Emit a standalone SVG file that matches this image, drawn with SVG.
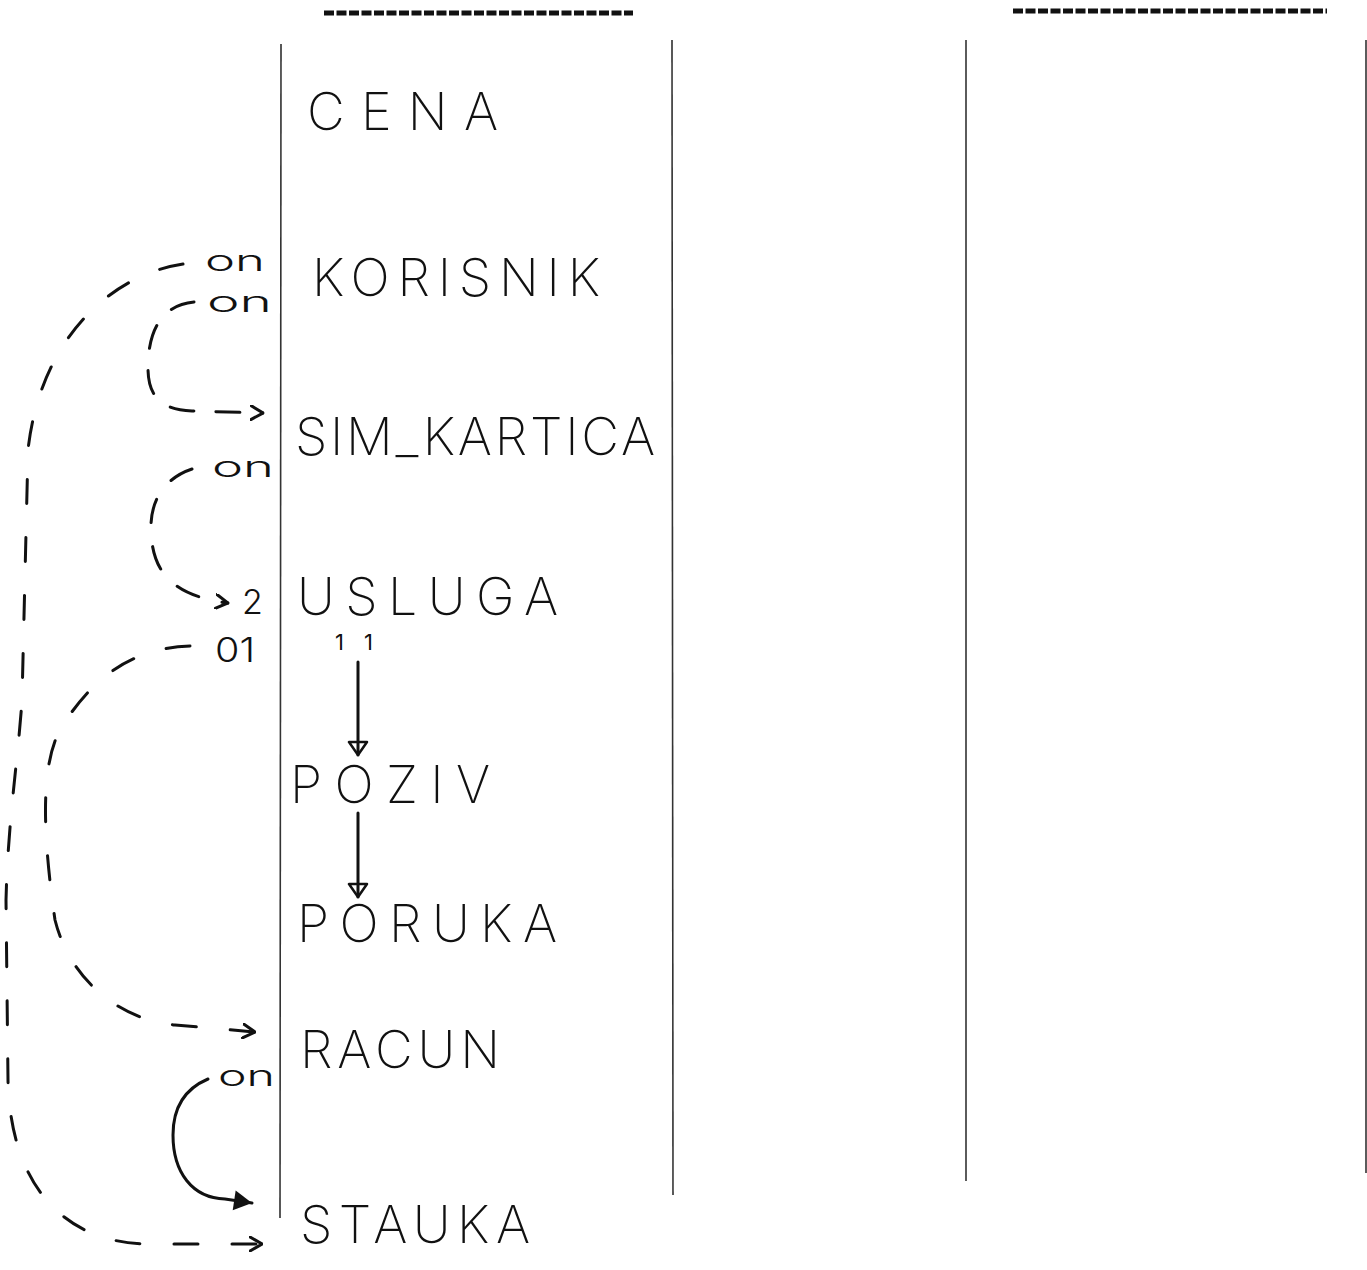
<svg xmlns="http://www.w3.org/2000/svg" width="1367" height="1270" viewBox="0 0 1367 1270">
<style>
.bg{fill:#fff}
.col{stroke:#333;stroke-width:1.6;fill:none}
.top{stroke:#111;stroke-width:5;stroke-dasharray:10 2.5;fill:none}
.name{font-family:Inter,"Liberation Sans",Arial,sans-serif;font-size:52px;font-weight:250;fill:#111}
.lbl{font-family:Inter,"Liberation Sans",Arial,sans-serif;font-size:34px;font-weight:300;fill:#111}
.on{font-family:Inter,"Liberation Sans",Arial,sans-serif;font-size:29px;font-weight:300;fill:#111}
.small{font-family:Inter,"Liberation Sans",Arial,sans-serif;font-size:22px;font-weight:400;fill:#111}
.dash{stroke:#111;stroke-width:3;fill:none;stroke-dasharray:24 34;stroke-linecap:round}
.solid{stroke:#111;stroke-width:3;fill:none;stroke-linecap:round}
</style>
<defs>
<marker id="open" viewBox="0 0 14 16" refX="13" refY="8" markerWidth="14" markerHeight="16" markerUnits="userSpaceOnUse" orient="auto">
<path d="M1,1 L13,8 L1,15" fill="none" stroke="#111" stroke-width="3" stroke-linecap="round"/>
</marker>
<marker id="tri" viewBox="0 0 16 22" refX="15" refY="11" markerWidth="16" markerHeight="22" markerUnits="userSpaceOnUse" orient="auto">
<path d="M2,2 L15,11 L2,20 Z" fill="none" stroke="#111" stroke-width="2.5" stroke-linejoin="round"/>
</marker>
<marker id="fill" viewBox="0 0 20 22" refX="19" refY="11" markerWidth="20" markerHeight="22" markerUnits="userSpaceOnUse" orient="auto">
<path d="M1,1 L19,11 L1,21 Z" fill="#111"/>
</marker>
</defs>
<rect class="bg" x="0" y="0" width="1367" height="1270"/>
<g id="frame">
<line class="top" x1="324" y1="13" x2="633" y2="13"/>
<line class="top" x1="1013" y1="11" x2="1327" y2="11"/>
<line class="col" x1="281" y1="44" x2="280" y2="1218"/>
<line class="col" x1="672" y1="40" x2="673" y2="1195"/>
<line class="col" x1="966" y1="40" x2="966" y2="1181"/>
<line class="col" x1="1366" y1="40" x2="1366" y2="1173"/>
</g>
<g id="connectors">
<path id="e-korisnik-stauka" class="dash" d="M183,264 C110,275 40,340 28,450 L22,700 C18,760 8,820 6,900 L8,1080 C10,1180 60,1244 150,1244 L262,1244" marker-end="url(#open)"/>
<path id="e-korisnik-sim" class="dash" style="stroke-dasharray:24 22" d="M194,302 C162,305 148,330 148,368 C148,395 160,410 192,411 L263,413" marker-end="url(#open)"/>
<path id="e-sim-usluga" class="dash" style="stroke-dasharray:24 24" d="M192,469 C165,478 150,500 151,530 C152,565 165,595 228,603" marker-end="url(#open)"/>
<path id="e-usluga-racun" class="dash" d="M190,646 C130,648 90,680 60,730 C38,770 45,850 55,920 C70,980 120,1020 175,1025 L255,1032" marker-end="url(#open)"/>
<line id="e-usluga-poziv" class="solid" x1="358" y1="662" x2="358" y2="755" marker-end="url(#tri)"/>
<line id="e-poziv-poruka" class="solid" x1="358" y1="813" x2="358" y2="897" marker-end="url(#tri)"/>
<path id="e-racun-stauka" class="solid" d="M208,1079 C182,1090 173,1110 173,1135 C173,1172 192,1198 225,1199 L252,1203" marker-end="url(#fill)"/>
</g>
<g id="labels">
<text class="on" x="205" y="271" textLength="60" lengthAdjust="spacingAndGlyphs">on</text>
<text class="on" x="207" y="312" textLength="65" lengthAdjust="spacingAndGlyphs">on</text>
<text class="on" x="212" y="477" textLength="62" lengthAdjust="spacingAndGlyphs">on</text>
<text class="lbl" x="242" y="614">2</text>
<text class="lbl" x="215" y="662" textLength="40" lengthAdjust="spacingAndGlyphs">01</text>
<text class="small" x="335" y="650" textLength="38" lengthAdjust="spacing">11</text>
<text class="on" x="218" y="1086" textLength="57" lengthAdjust="spacingAndGlyphs">on</text>
</g>
<g id="node-cena"><text class="name" x="307" y="130" textLength="191" lengthAdjust="spacing">CENA</text></g>
<g id="node-korisnik"><text class="name" x="312" y="296" textLength="288" lengthAdjust="spacing">KORISNIK</text></g>
<g id="node-sim-kartica"><text class="name" x="295" y="455" textLength="360" lengthAdjust="spacing">SIM_KARTICA</text></g>
<g id="node-usluga"><text class="name" x="297" y="615" textLength="261" lengthAdjust="spacing">USLUGA</text></g>
<g id="node-poziv"><text class="name" x="290" y="803" textLength="200" lengthAdjust="spacing">POZIV</text></g>
<g id="node-poruka"><text class="name" x="297" y="942" textLength="260" lengthAdjust="spacing">PORUKA</text></g>
<g id="node-racun"><text class="name" x="300" y="1068" textLength="200" lengthAdjust="spacing">RACUN</text></g>
<g id="node-stauka"><text class="name" x="300" y="1243" textLength="230" lengthAdjust="spacing">STAUKA</text></g>
</svg>
